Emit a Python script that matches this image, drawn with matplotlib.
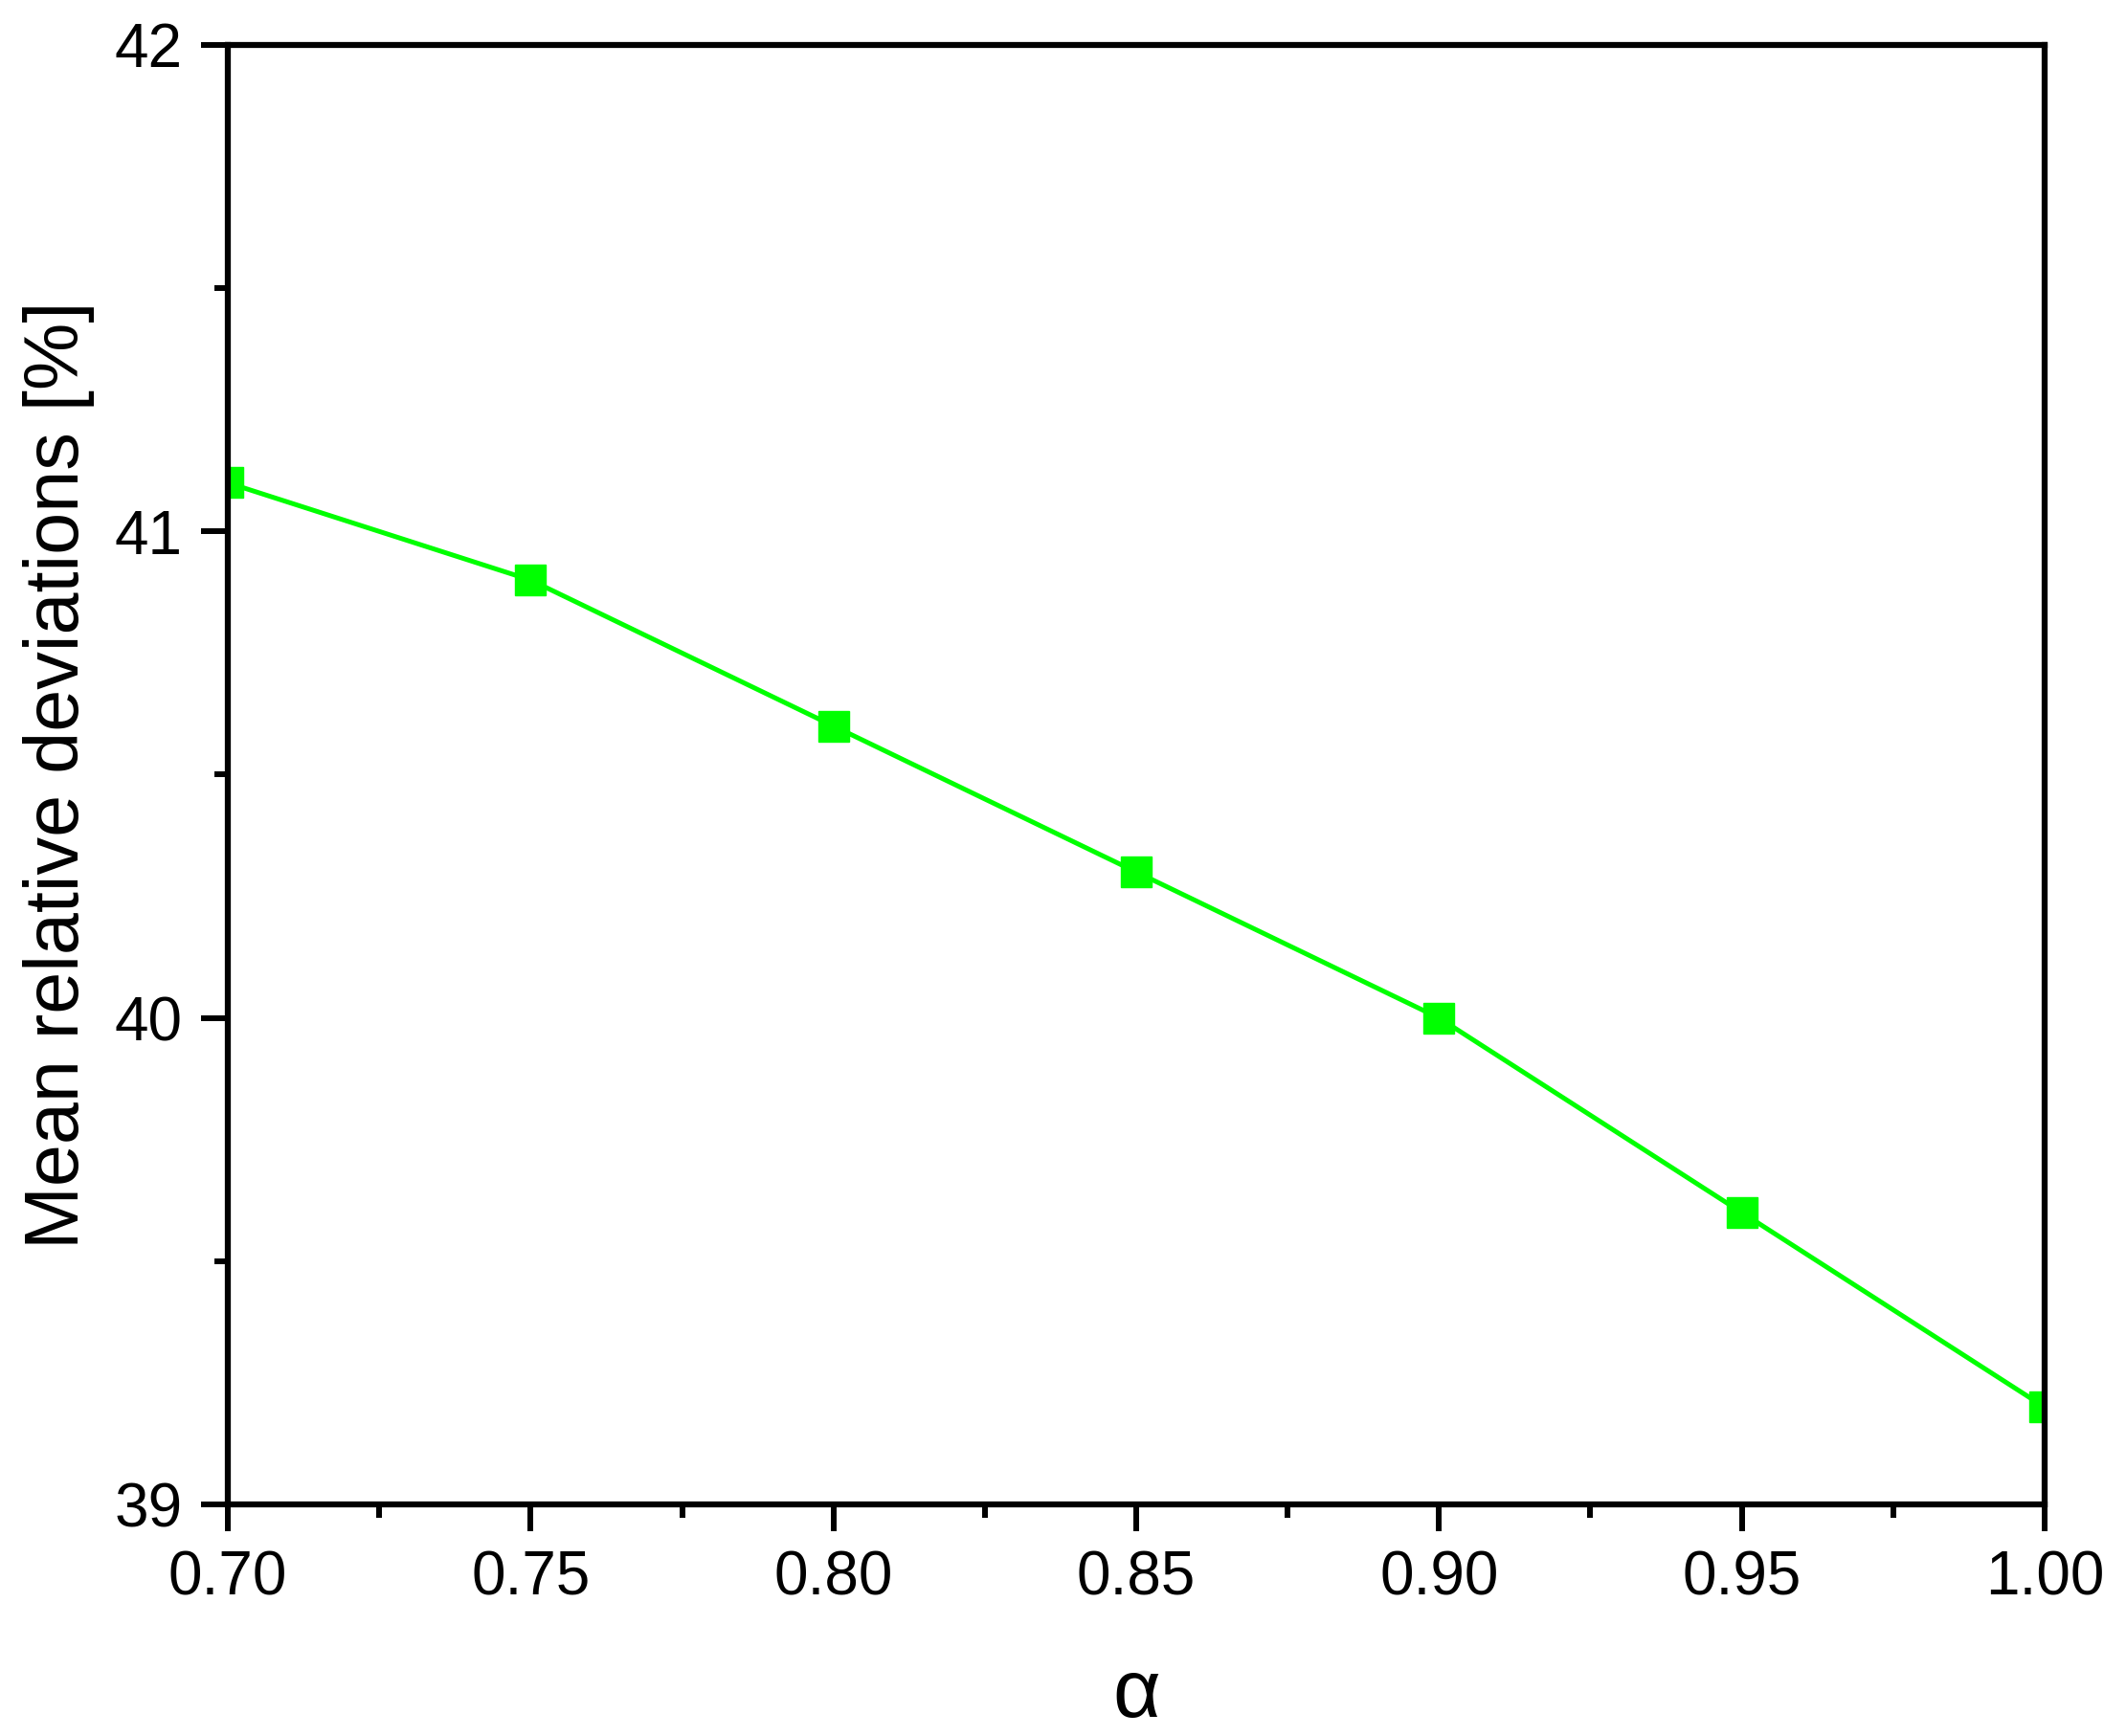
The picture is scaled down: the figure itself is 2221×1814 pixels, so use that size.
import numpy as np
import matplotlib.pyplot as plt
from matplotlib.ticker import MultipleLocator

plt.rcParams['font.family'] = ['Liberation Sans', 'DejaVu Sans']

alpha = [0.70, 0.75, 0.80, 0.85, 0.90, 0.95, 1.00]
mrd = [41.1, 40.9, 40.6, 40.3, 40.0, 39.6, 39.2]
xticks = [0.70, 0.75, 0.80, 0.85, 0.90, 0.95, 1.00]
yticks = [39, 40, 41, 42]

fig = plt.figure(figsize=(22.21, 18.14), dpi=100)
ax = fig.add_axes([0.1072, 0.1334, 0.8545, 0.8407])

ax.plot(alpha, mrd, '-s', color='#00ff00', lw=3.6, ms=23, mec='#00ff00')

ax.set_xlim(0.70, 1.00)
ax.set_ylim(39, 42)
ax.set_xticks(xticks)
ax.set_xticklabels(['%.2f' % t for t in xticks])
ax.set_yticks(yticks)
ax.xaxis.set_minor_locator(MultipleLocator(0.025))
ax.yaxis.set_minor_locator(MultipleLocator(0.5))

for s in ax.spines.values():
    s.set_linewidth(4.5)
ax.tick_params(which='major', direction='out', length=20, width=4.3, labelsize=46, pad=14)
ax.tick_params(which='minor', direction='out', length=10, width=4.3)
ax.tick_params(top=False, right=False)

ax.set_xlabel('α', fontsize=62, labelpad=38)
ax.set_ylabel('Mean relative deviations [%]', fontsize=57, labelpad=15)

fig.savefig('out.png', dpi=100)
